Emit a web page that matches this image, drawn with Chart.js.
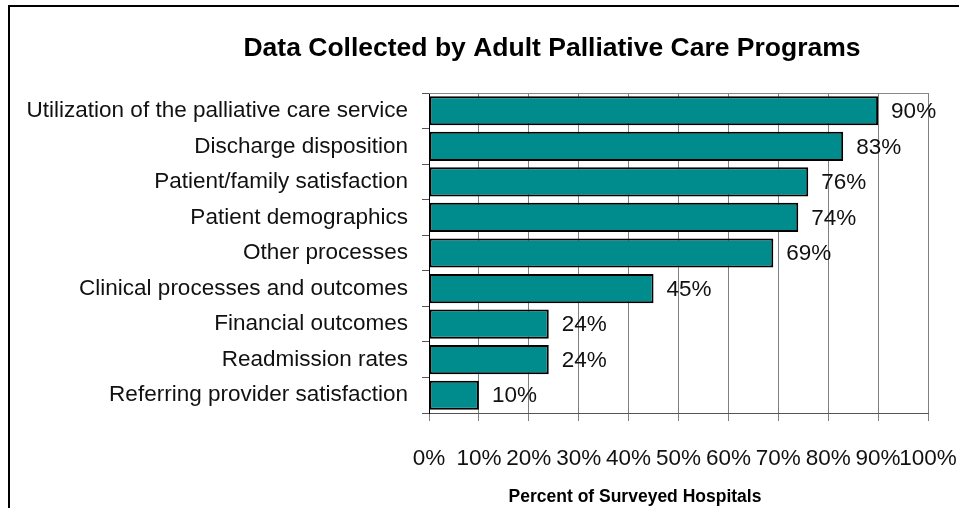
<!DOCTYPE html>
<html>
<head>
<meta charset="utf-8">
<title>Data Collected by Adult Palliative Care Programs</title>
<script src="https://cdn.jsdelivr.net/npm/chart.js@4.4.1/dist/chart.umd.min.js"></script>
<style>
  html, body { margin: 0; padding: 0; background: #fff; }
  #wrap { position: relative; width: 959px; height: 508px; overflow: hidden; }
  #frame { position: absolute; left: 8px; top: 5px; width: 960px; height: 520px;
           border-left: 2px solid #000; border-top: 2px solid #000; }
  #chart { position: absolute; left: 0; top: 0; }
</style>
</head>
<body>
<div id="wrap">
  <div id="frame"></div>
  <canvas id="chart" width="959" height="508"></canvas>
</div>
<script>
// programs and share of surveyed hospitals collecting each item (%)
var categories = [
    'Utilization of the palliative care service',
    'Discharge disposition',
    'Patient/family satisfaction',
    'Patient demographics',
    'Other processes',
    'Clinical processes and outcomes',
    'Financial outcomes',
    'Readmission rates',
    'Referring provider satisfaction'
];
var percents = [90, 83, 76, 74, 69, 45, 24, 24, 10];
var chartTitle = 'Data Collected by Adult Palliative Care Programs';
var axisTitle = 'Percent of Surveyed Hospitals';

var FONT = 'Arial, "Liberation Sans", sans-serif';

// headings drawn by hand, the title sits off-center in this layout
var headings = {
    id: 'headings',
    afterDraw: function (chart) {
        var ctx = chart.ctx;
        ctx.save();
        ctx.fillStyle = '#000';
        ctx.textAlign = 'center';
        ctx.textBaseline = 'alphabetic';
        ctx.font = 'bold 26.5px ' + FONT;
        ctx.fillText(chartTitle, 552, 56);
        ctx.font = 'bold 17.5px ' + FONT;
        ctx.fillText(axisTitle, 635, 502);
        ctx.restore();
    }
};

// top edge of the plot box
var plotFrame = {
    id: 'plotFrame',
    beforeDatasetsDraw: function (chart) {
        var a = chart.chartArea, ctx = chart.ctx;
        ctx.save();
        ctx.strokeStyle = '#888';
        ctx.lineWidth = 1;
        ctx.beginPath();
        ctx.moveTo(a.left, a.top + 0.5);
        ctx.lineTo(a.right, a.top + 0.5);
        ctx.stroke();
        ctx.restore();
    }
};

// "NN%" after the end of each bar
var valueLabels = {
    id: 'valueLabels',
    afterDatasetsDraw: function (chart) {
        var ctx = chart.ctx;
        var meta = chart.getDatasetMeta(0);
        ctx.save();
        ctx.font = '22.5px ' + FONT;
        ctx.fillStyle = '#111';
        ctx.textAlign = 'left';
        ctx.textBaseline = 'middle';
        meta.data.forEach(function (bar, i) {
            ctx.fillText(percents[i] + '%', bar.x + 13, bar.y + 1);
        });
        ctx.restore();
    }
};

var ctx = document.getElementById('chart').getContext('2d');
var myChart = new Chart(ctx, {
    type: 'bar',
    data: {
        labels: categories,
        datasets: [{
            data: percents,
            backgroundColor: '#008c8c',
            borderColor: '#000',
            borderWidth: 2,
            borderSkipped: false,
            categoryPercentage: 1,
            barPercentage: 0.82
        }]
    },
    options: {
        indexAxis: 'y',
        responsive: false,
        animation: false,
        layout: { padding: { top: 93, right: 31, bottom: 0, left: 0 } },
        plugins: {
            legend: { display: false },
            title: { display: false },
            tooltip: { enabled: false }
        },
        scales: {
            x: {
                min: 0,
                max: 100,
                afterFit: function (scale) {
                    scale.height = 95;
                    scale.paddingLeft = 0;
                    scale.paddingRight = 0;
                },
                ticks: {
                    stepSize: 10,
                    padding: 24,
                    color: '#111',
                    font: { family: FONT, size: 22.5 },
                    maxRotation: 0,
                    autoSkip: false,
                    callback: function (v) { return v + '%'; }
                },
                grid: { color: '#808080', lineWidth: 1, tickLength: 8 },
                border: { color: '#555', width: 1 }
            },
            y: {
                afterFit: function (scale) { scale.width = 429; },
                ticks: {
                    padding: 14,
                    color: '#111',
                    font: { family: FONT, size: 22.5 },
                    autoSkip: false
                },
                grid: { drawOnChartArea: false, offset: true, color: '#555', tickLength: 7 },
                border: { color: '#000', width: 1 }
            }
        }
    },
    plugins: [plotFrame, valueLabels, headings]
});
</script>
</body>
</html>
